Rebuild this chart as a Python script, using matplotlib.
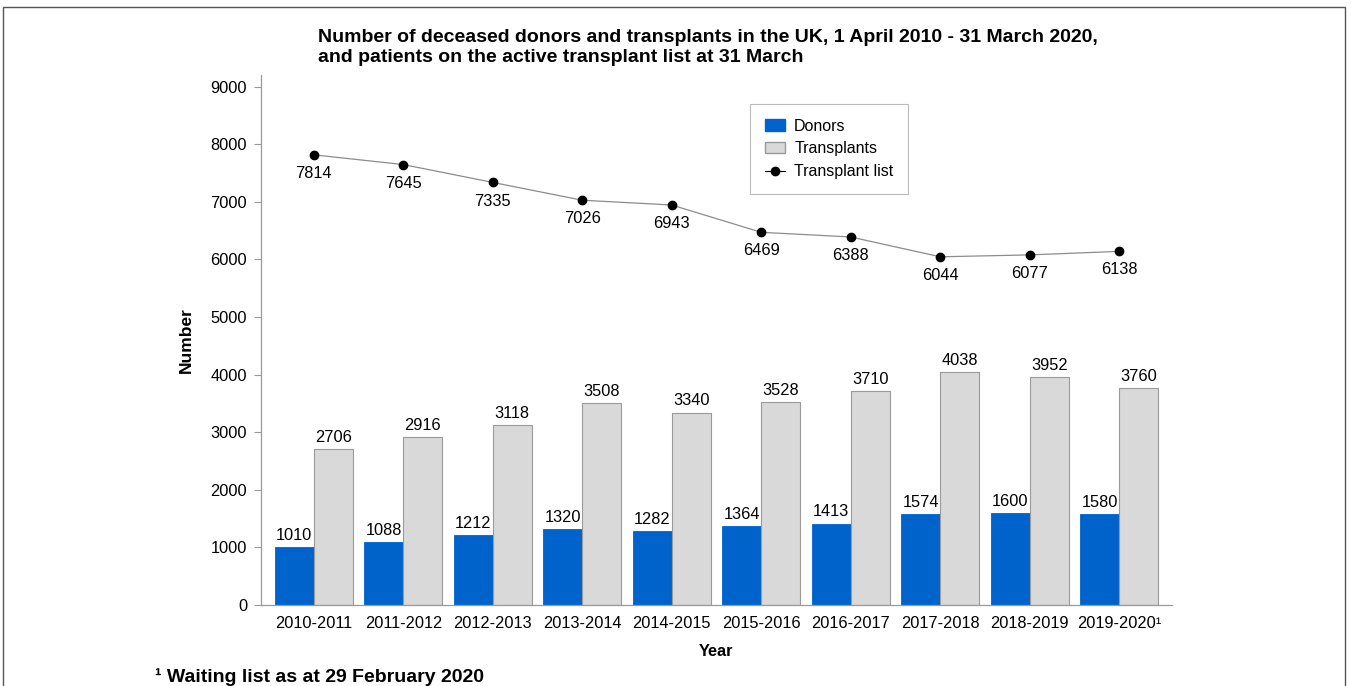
import numpy as np
import matplotlib
matplotlib.use("Agg")
import matplotlib.pyplot as plt
from matplotlib.patches import Rectangle
from matplotlib.lines import Line2D

plt.rcParams['font.family'] = ['Liberation Sans', 'DejaVu Sans']

# data
years = ["2010-2011", "2011-2012", "2012-2013", "2013-2014", "2014-2015",
         "2015-2016", "2016-2017", "2017-2018", "2018-2019", "2019-2020\u00b9"]
donors = [1010, 1088, 1212, 1320, 1282, 1364, 1413, 1574, 1600, 1580]
transplants = [2706, 2916, 3118, 3508, 3340, 3528, 3710, 4038, 3952, 3760]
transplant_list = [7814, 7645, 7335, 7026, 6943, 6469, 6388, 6044, 6077, 6138]

blue = "#0063cc"
grey = "#d9d9d9"

fig = plt.figure(figsize=(13.51, 6.86), dpi=100)
ax = fig.add_axes([0.1932, 0.1181, 0.6743, 0.7726])

x = np.arange(len(years))
w = 0.436
ax.bar(x - w / 2, donors, w, color=blue, edgecolor=blue, linewidth=0.6)
ax.bar(x + w / 2, transplants, w, color=grey, edgecolor="#9a9a9a", linewidth=0.8)
ax.plot(x, transplant_list, color="#8c8c8c", lw=0.9, marker="o",
        markersize=6, markerfacecolor="black", markeredgecolor="black")

# value labels
for i in x:
    ax.annotate(str(donors[i]), (i - w / 2, donors[i]), xytext=(0, 3),
                textcoords="offset points", ha="center", va="bottom", fontsize=11.8)
    ax.annotate(str(transplants[i]), (i + w / 2, transplants[i]), xytext=(0, 3),
                textcoords="offset points", ha="center", va="bottom", fontsize=11.8)
    ax.annotate(str(transplant_list[i]), (i, transplant_list[i]), xytext=(0, -8),
                textcoords="offset points", ha="center", va="top", fontsize=11.8)

ax.set_xlim(-0.59, 9.59)
ax.set_ylim(0, 9200)
ax.set_yticks(range(0, 9001, 1000))
ax.set_xticks(x)
ax.set_xticklabels(years)
ax.tick_params(axis="x", length=0, pad=8, labelsize=11.8)
ax.tick_params(axis="y", length=5, color="#999999", labelsize=11.8, pad=5)
for s in ["top", "right"]:
    ax.spines[s].set_visible(False)
for s in ["left", "bottom"]:
    ax.spines[s].set_color("#999999")
    ax.spines[s].set_linewidth(0.9)

ax.set_ylabel("Number", fontsize=12.5, fontweight="bold", labelpad=12)
ax.set_xlabel("Year", fontsize=11.8, fontweight="bold", labelpad=9)

fig.text(0.2354, 0.9576, "Number of deceased donors and transplants in the UK, 1 April 2010 - 31 March 2020,\n"
         "and patients on the active transplant list at 31 March",
         ha="left", va="top", fontsize=14, fontweight="bold", linespacing=1.2)
fig.text(0.1147, 0.0, "\u00b9 Waiting list as at 29 February 2020", ha="left", va="bottom",
         fontsize=14, fontweight="bold")

handles = [Rectangle((0, 0), 1, 1, facecolor=blue, edgecolor=blue),
           Rectangle((0, 0), 1, 1, facecolor=grey, edgecolor="#9a9a9a"),
           Line2D([0], [0], color="black", lw=0.8, marker="o", markersize=6)]
leg = ax.legend(handles, ["Donors", "Transplants", "Transplant list"],
                loc="upper left", bbox_to_anchor=(0.537, 0.945), fontsize=11.5,
                frameon=True, fancybox=False, edgecolor="#aaaaaa",
                borderpad=0.9, handlelength=1.25, handletextpad=0.6, labelspacing=0.5,
                borderaxespad=0)
leg.get_frame().set_linewidth(0.8)

# outer frame
fig.patches.append(Rectangle((0.0022, -0.01), 0.9935, 0.9994,
                             transform=fig.transFigure, fill=False,
                             edgecolor="#555555", linewidth=1.0))

fig.savefig("out.png", dpi=100)
